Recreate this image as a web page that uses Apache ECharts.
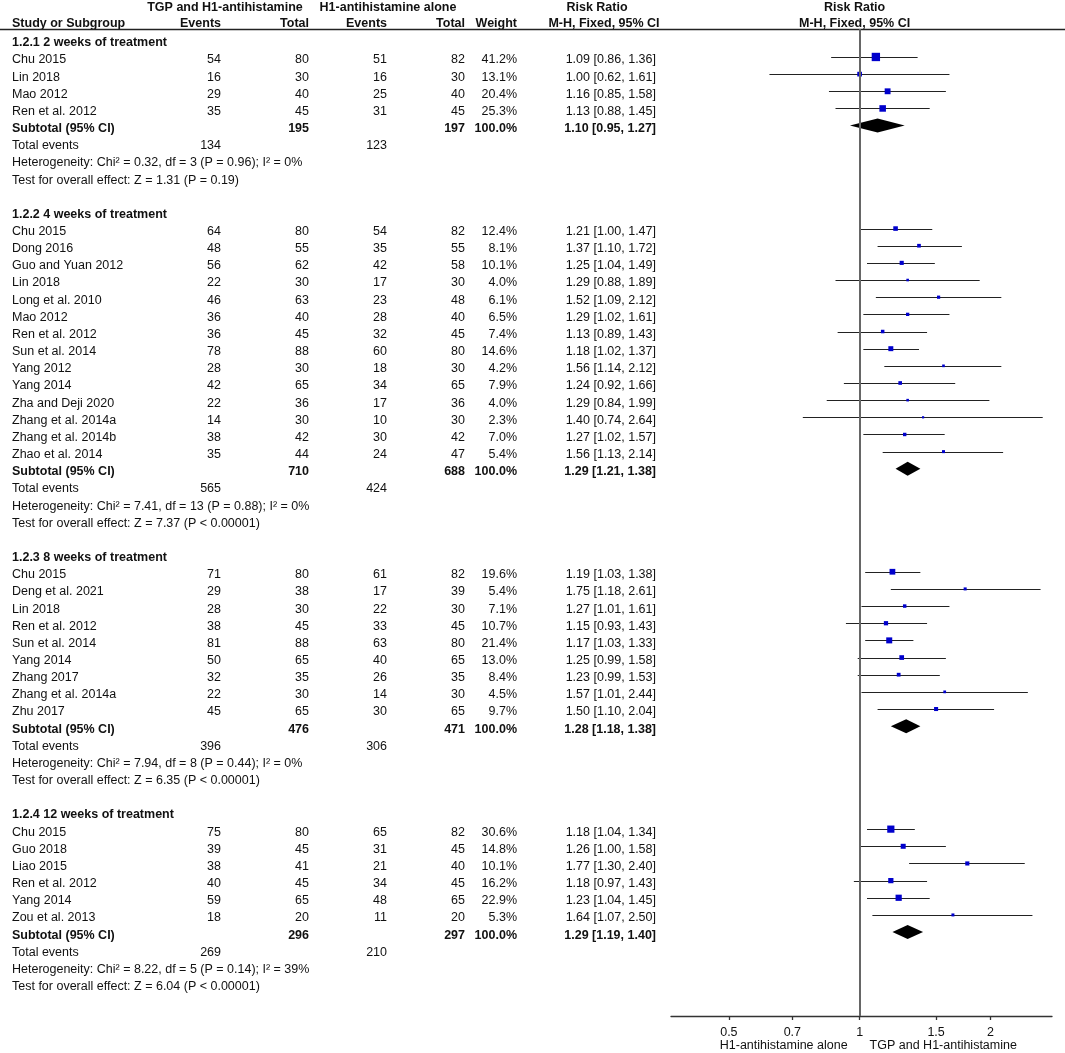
<!DOCTYPE html>
<html><head><meta charset="utf-8">
<script src="https://cdn.jsdelivr.net/npm/echarts@6/dist/echarts.min.js"></script>
<style>html,body{margin:0;padding:0;background:#fff}#c{width:1065px;height:1053px}</style>
</head><body><div id="c"></div>
<script>
// ---------- DATA ----------
const groupTitles = ['1.2.1 2 weeks of treatment', '1.2.2 4 weeks of treatment', '1.2.3 8 weeks of treatment', '1.2.4 12 weeks of treatment'];
const studyNames = [
  'Chu 2015','Lin 2018','Mao 2012','Ren et al. 2012',
  'Chu 2015','Dong 2016','Guo and Yuan 2012','Lin 2018','Long et al. 2010','Mao 2012','Ren et al. 2012','Sun et al. 2014','Yang 2012','Yang 2014','Zha and Deji 2020','Zhang et al. 2014a','Zhang et al. 2014b','Zhao et al. 2014',
  'Chu 2015','Deng et al. 2021','Lin 2018','Ren et al. 2012','Sun et al. 2014','Yang 2014','Zhang 2017','Zhang et al. 2014a','Zhu 2017',
  'Chu 2015','Guo 2018','Liao 2015','Ren et al. 2012','Yang 2014','Zou et al. 2013'
];
const studyGroup = [0,0,0,0, 1,1,1,1,1,1,1,1,1,1,1,1,1,1, 2,2,2,2,2,2,2,2,2, 3,3,3,3,3,3];
const eventsT = [54,16,29,35, 64,48,56,22,46,36,36,78,28,42,22,14,38,35, 71,29,28,38,81,50,32,22,45, 75,39,38,40,59,18];
const totalT  = [80,30,40,45, 80,55,62,30,63,40,45,88,30,65,36,30,42,44, 80,38,30,45,88,65,35,30,65, 80,45,41,45,65,20];
const eventsC = [51,16,25,31, 54,35,42,17,23,28,32,60,18,34,17,10,30,24, 61,17,22,33,63,40,26,14,30, 65,31,21,34,48,11];
const totalC  = [82,30,40,45, 82,55,58,30,48,40,45,80,30,65,36,30,42,47, 82,39,30,45,80,65,35,30,65, 82,45,40,45,65,20];
const weights = [41.2,13.1,20.4,25.3, 12.4,8.1,10.1,4.0,6.1,6.5,7.4,14.6,4.2,7.9,4.0,2.3,7.0,5.4, 19.6,5.4,7.1,10.7,21.4,13.0,8.4,4.5,9.7, 30.6,14.8,10.1,16.2,22.9,5.3];
const riskRatio = [1.09,1.00,1.16,1.13, 1.21,1.37,1.25,1.29,1.52,1.29,1.13,1.18,1.56,1.24,1.29,1.40,1.27,1.56, 1.19,1.75,1.27,1.15,1.17,1.25,1.23,1.57,1.50, 1.18,1.26,1.77,1.18,1.23,1.64];
const ciLow  = [0.86,0.62,0.85,0.88, 1.00,1.10,1.04,0.88,1.09,1.02,0.89,1.02,1.14,0.92,0.84,0.74,1.02,1.13, 1.03,1.18,1.01,0.93,1.03,0.99,0.99,1.01,1.10, 1.04,1.00,1.30,0.97,1.04,1.07];
const ciHigh = [1.36,1.61,1.58,1.45, 1.47,1.72,1.49,1.89,2.12,1.61,1.43,1.37,2.12,1.66,1.99,2.64,1.57,2.14, 1.38,2.61,1.61,1.43,1.33,1.58,1.53,2.44,2.04, 1.34,1.58,2.40,1.43,1.45,2.50];

const subTotalT = [195,710,476,296];
const subTotalC = [197,688,471,297];
const subRR   = [1.10,1.29,1.28,1.29];
const subLow  = [0.95,1.21,1.18,1.19];
const subHigh = [1.27,1.38,1.38,1.40];
const totalEventsT = [134,565,396,269];
const totalEventsC = [123,424,306,210];
const hetChi = ['0.32','7.41','7.94','8.22'];
const hetDf  = [3,13,8,5];
const hetP   = ['0.96','0.88','0.44','0.14'];
const hetI2  = [0,0,0,39];
const effZ   = ['1.31','7.37','6.35','6.04'];
const effP   = ['P = 0.19','P < 0.00001','P < 0.00001','P < 0.00001'];

const tickValues = [0.5, 0.7, 1, 1.5, 2];
const favourLeft = 'H1-antihistamine alone';
const favourRight = 'TGP and H1-antihistamine';

// ---------- LAYOUT ----------
const FONT = '"Liberation Sans", Arial, sans-serif';
const FS = 12.5;
const TXT = '#111';
const col = {
  name: {x: 12, align: 'left'},
  evT: {x: 221, align: 'right'},
  totT: {x: 309, align: 'right'},
  evC: {x: 387, align: 'right'},
  totC: {x: 465, align: 'right'},
  w: {x: 517, align: 'right'},
  rr: {x: 656, align: 'right'}
};
const fmtCI = (r, l, h) => r.toFixed(2) + ' [' + l.toFixed(2) + ', ' + h.toFixed(2) + ']';

// build rows
const textRows = [];
const studyRows = [];
const subRows = [];
let r = 0;
for (let g = 0; g < groupTitles.length; g++) {
  textRows.push({row: r, cells: [{c: 'name', t: groupTitles[g], b: true}]});
  r++;
  for (let i = 0; i < studyNames.length; i++) {
    if (studyGroup[i] !== g) continue;
    studyRows[i] = r;
    textRows.push({row: r, cells: [
      {c: 'name', t: studyNames[i]}, {c: 'evT', t: String(eventsT[i])}, {c: 'totT', t: String(totalT[i])},
      {c: 'evC', t: String(eventsC[i])}, {c: 'totC', t: String(totalC[i])}, {c: 'w', t: weights[i].toFixed(1) + '%'},
      {c: 'rr', t: fmtCI(riskRatio[i], ciLow[i], ciHigh[i])}
    ]});
    r++;
  }
  subRows[g] = r;
  textRows.push({row: r, cells: [
    {c: 'name', t: 'Subtotal (95% CI)', b: true}, {c: 'totT', t: String(subTotalT[g]), b: true},
    {c: 'totC', t: String(subTotalC[g]), b: true}, {c: 'w', t: '100.0%', b: true},
    {c: 'rr', t: fmtCI(subRR[g], subLow[g], subHigh[g]), b: true}
  ]});
  r++;
  textRows.push({row: r, cells: [{c: 'name', t: 'Total events'}, {c: 'evT', t: String(totalEventsT[g])}, {c: 'evC', t: String(totalEventsC[g])}]});
  r++;
  textRows.push({row: r, cells: [{c: 'name', t: 'Heterogeneity: Chi\u00b2 = ' + hetChi[g] + ', df = ' + hetDf[g] + ' (P = ' + hetP[g] + '); I\u00b2 = ' + hetI2[g] + '%'}]});
  r++;
  textRows.push({row: r, cells: [{c: 'name', t: 'Test for overall effect: Z = ' + effZ[g] + ' (' + effP[g] + ')'}]});
  r += 2;
}

const ln = Math.log;
const ciData = studyNames.map((n, i) => [ln(ciLow[i]), ln(ciHigh[i]), studyRows[i]]);
const ptData = studyNames.map((n, i) => [ln(riskRatio[i]), studyRows[i], weights[i]]);
const diaData = subRR.map((v, g) => [ln(subLow[g]), ln(v), ln(subHigh[g]), subRows[g]]);

const chart = echarts.init(document.getElementById('c'), null, {renderer: 'canvas'});
const axisCol = '#333';
chart.setOption({
  animation: false,
  backgroundColor: '#fff',
  grid: {left: 671, right: 13, top: 29, bottom: 37},
  xAxis: {
    type: 'value', min: -1.0, max: 1.02,
    splitLine: {show: false},
    axisLine: {show: true, onZero: false, lineStyle: {color: axisCol, width: 1.3}},
    axisTick: {show: true, length: 4, customValues: tickValues.map(v => ln(v)), lineStyle: {color: axisCol, width: 1.3}},
    axisLabel: {
      show: true, customValues: tickValues.map(v => ln(v)), margin: 10,
      color: TXT, fontSize: FS, fontFamily: FONT,
      formatter: v => String(Number(Math.exp(v).toFixed(2)))
    }
  },
  yAxis: {type: 'value', inverse: true, min: -0.63, max: 56.89, show: false},
  series: [
    {
      type: 'custom', name: 'CI',
      encode: {x: [0, 1], y: 2},
      data: ciData,
      renderItem: (params, api) => {
        const a = api.coord([api.value(0), api.value(2)]);
        const b = api.coord([api.value(1), api.value(2)]);
        const y = Math.round(a[1]) + 0.5;
        return {type: 'line', shape: {x1: a[0], y1: y, x2: b[0], y2: y}, style: {stroke: '#222', lineWidth: 1}};
      },
      z: 2
    },
    {
      type: 'scatter', name: 'Studies',
      data: ptData,
      symbol: 'rect',
      symbolSize: v => Math.max(2.2, 1.3 * Math.sqrt(v[2])),
      itemStyle: {color: '#0000cc', opacity: 1},
      z: 3,
      markLine: {
        silent: true, symbol: 'none', animation: false,
        label: {show: false},
        lineStyle: {color: '#666', width: 2, type: 'solid'},
        data: [{xAxis: 0}]
      }
    },
    {
      type: 'custom', name: 'Subtotal',
      encode: {x: [0, 1, 2], y: 3},
      data: diaData,
      renderItem: (params, api) => {
        const y = api.value(3);
        const l = api.coord([api.value(0), y]);
        const m = api.coord([api.value(1), y]);
        const h = api.coord([api.value(2), y]);
        return {type: 'polygon', shape: {points: [[l[0], l[1]], [m[0], m[1] - 7], [h[0], h[1]], [m[0], m[1] + 7]]}, style: {fill: '#000'}};
      },
      z: 3
    }
  ]
});

// ---------- TEXT TABLE ----------
const yPix = row => chart.convertToPixel({yAxisIndex: 0}, row);
const xZero = chart.convertToPixel({xAxisIndex: 0}, 0);
const mk = (x, y, text, align, bold) => ({
  type: 'text', x: x, y: y, silent: true,
  style: {
    text: text, fill: TXT, fontSize: FS, fontFamily: FONT, fontWeight: bold ? 'bold' : 'normal',
    align: align, verticalAlign: 'middle', textAlign: align, textVerticalAlign: 'middle'
  }
});
const graphics = [];
textRows.forEach(tr => {
  const y = yPix(tr.row) + 3;
  tr.cells.forEach(cl => graphics.push(mk(col[cl.c].x, y, cl.t, col[cl.c].align, cl.b)));
});
// headers
const h1 = 7.5, h2 = 24;
graphics.push(mk(225, h1, 'TGP and H1-antihistamine', 'center', true));
graphics.push(mk(388, h1, 'H1-antihistamine alone', 'center', true));
graphics.push(mk(597, h1, 'Risk Ratio', 'center', true));
graphics.push(mk(xZero - 5, h1, 'Risk Ratio', 'center', true));
graphics.push(mk(12, h2, 'Study or Subgroup', 'left', true));
graphics.push(mk(col.evT.x, h2, 'Events', 'right', true));
graphics.push(mk(col.totT.x, h2, 'Total', 'right', true));
graphics.push(mk(col.evC.x, h2, 'Events', 'right', true));
graphics.push(mk(col.totC.x, h2, 'Total', 'right', true));
graphics.push(mk(col.w.x, h2, 'Weight', 'right', true));
graphics.push(mk(604, h2, 'M-H, Fixed, 95% CI', 'center', true));
graphics.push(mk(xZero - 5, h2, 'M-H, Fixed, 95% CI', 'center', true));
// header rule
graphics.push({type: 'line', silent: true, shape: {x1: 0, y1: 29.5, x2: 1065, y2: 29.5}, style: {stroke: '#222', lineWidth: 1.3}});
// favour labels
graphics.push(mk(xZero - 12, 1046, favourLeft, 'right', false));
graphics.push(mk(xZero + 10, 1046, favourRight, 'left', false));

chart.setOption({graphic: {elements: graphics}});
</script>
</body></html>
